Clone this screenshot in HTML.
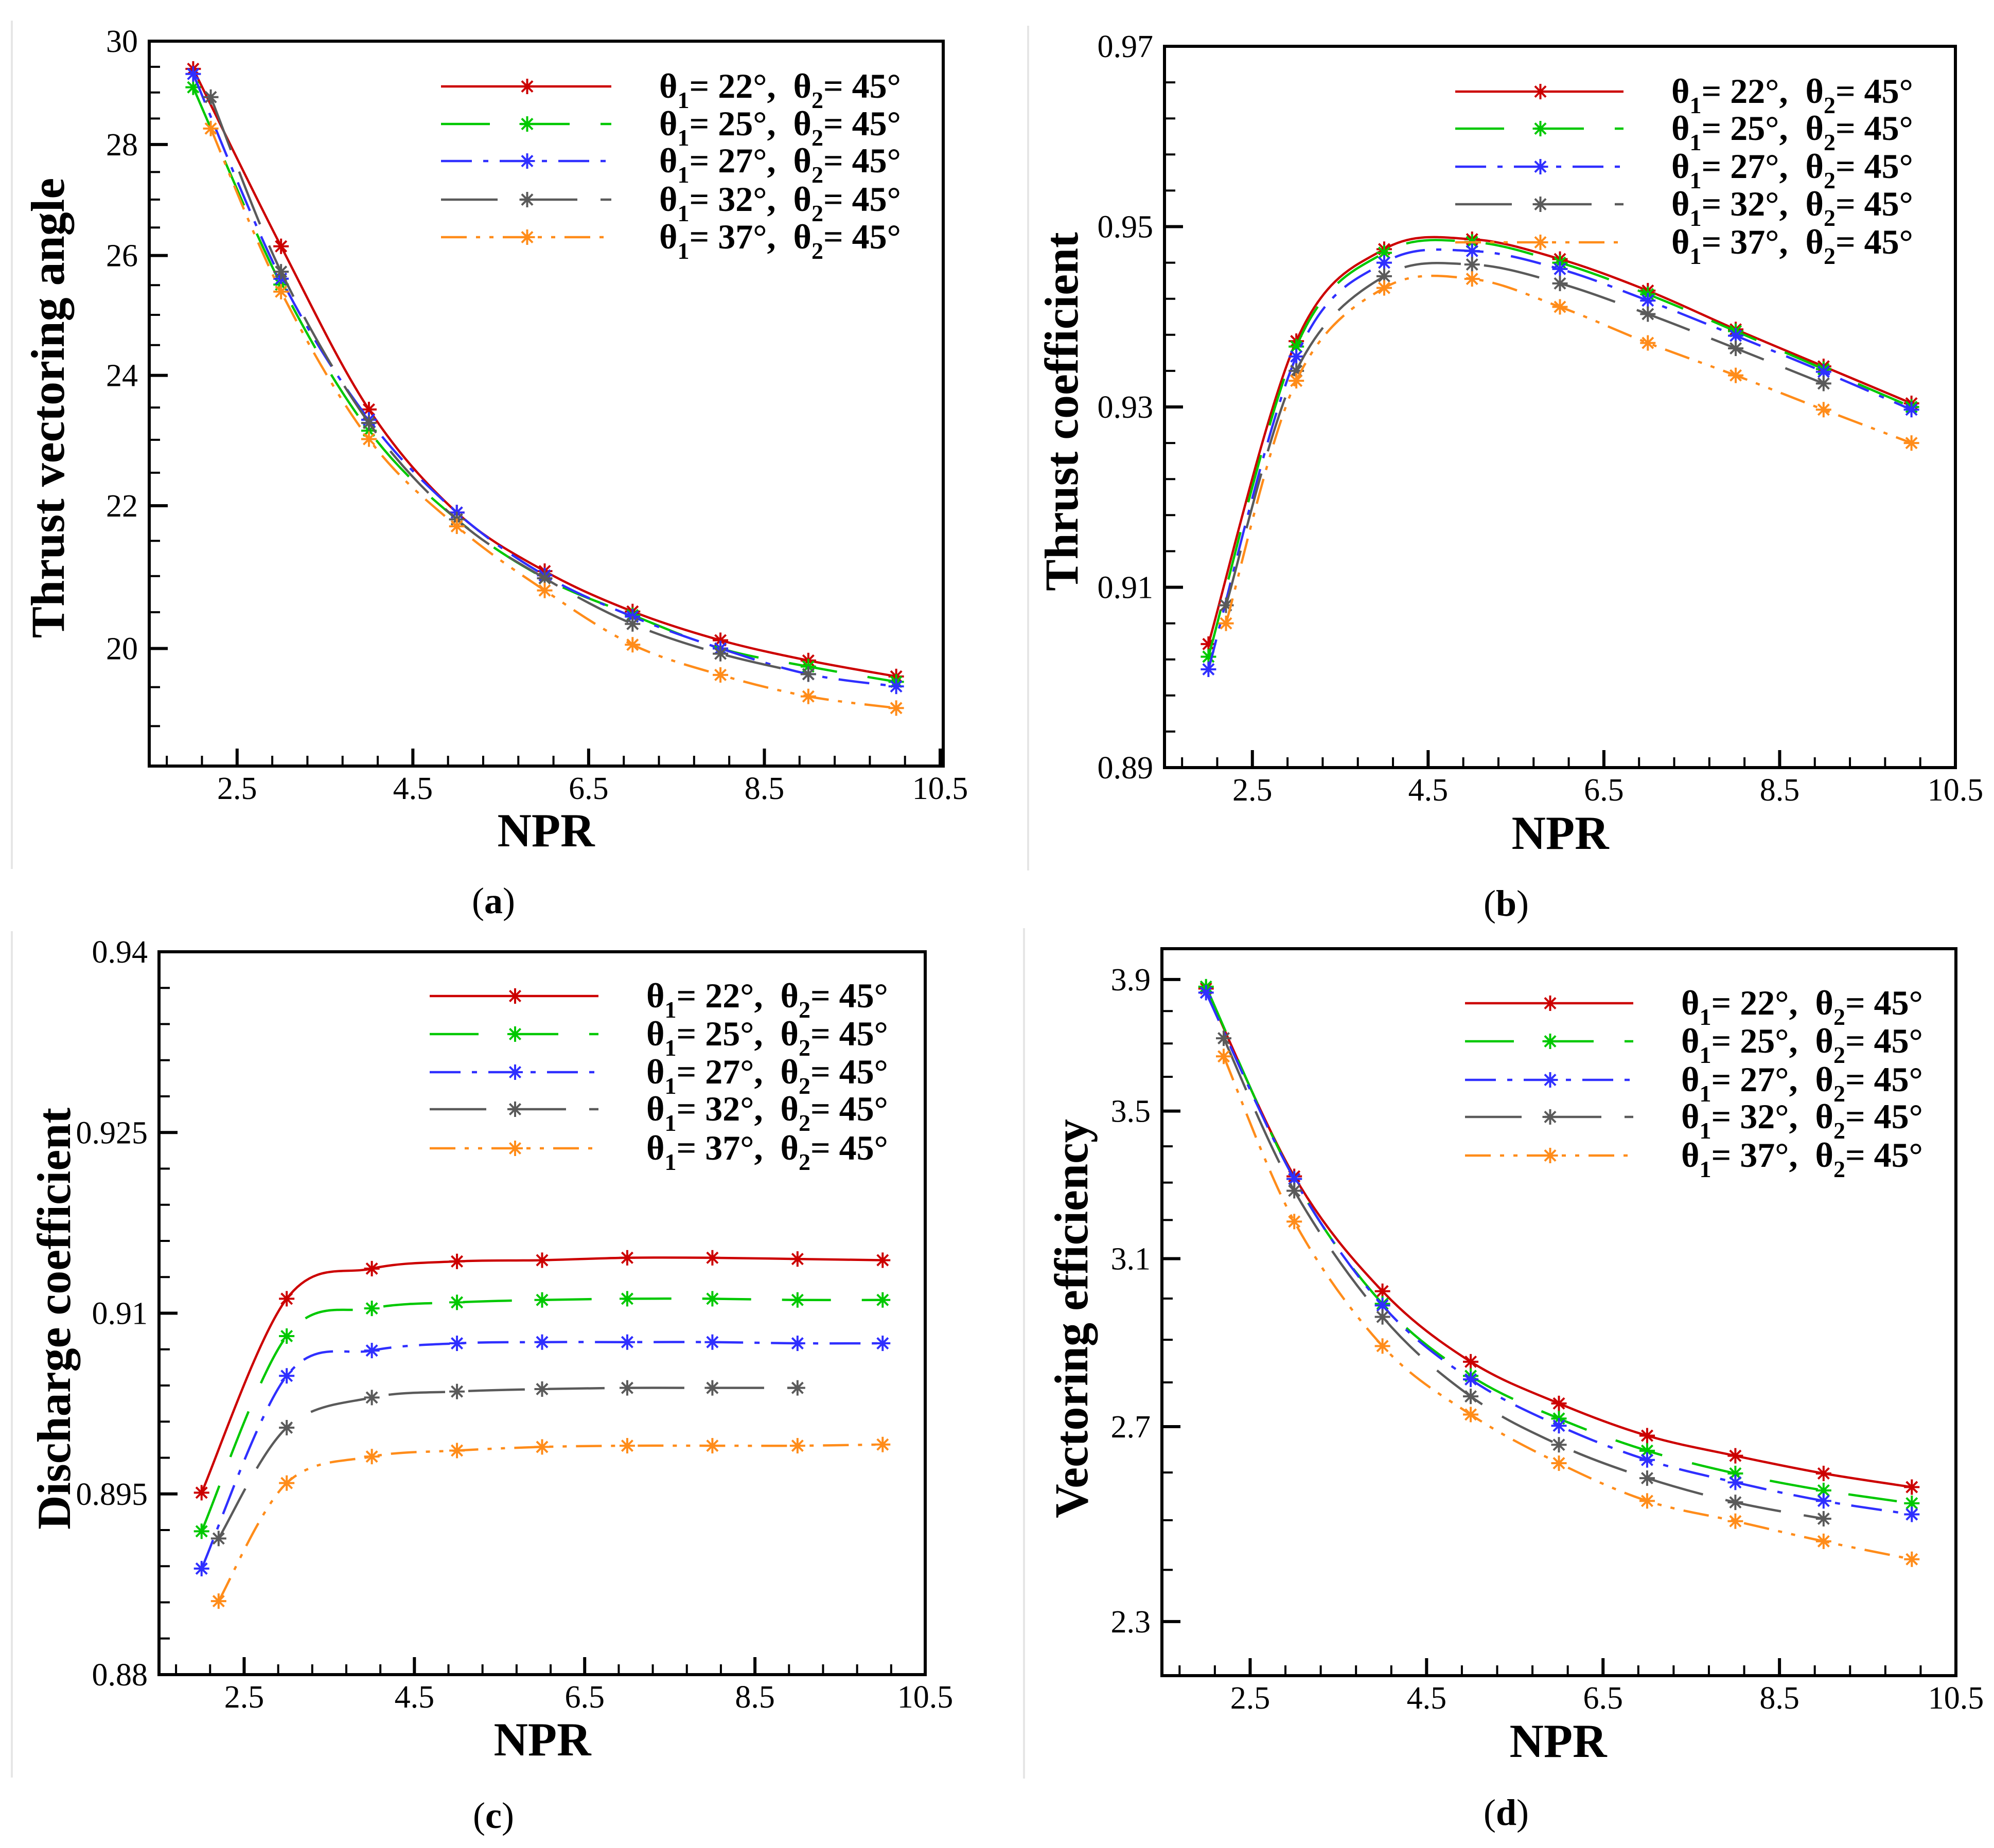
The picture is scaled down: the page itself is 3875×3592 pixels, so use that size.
<!DOCTYPE html>
<html><head><meta charset="utf-8"><style>
html,body{margin:0;padding:0;background:#fff;}
svg{display:block;}
svg text{font-family:"Liberation Serif","DejaVu Serif",serif;}
</style></head>
<body>
<svg id="fig" width="3875" height="3592" viewBox="0 0 3875 3592" xmlns="http://www.w3.org/2000/svg">
<rect x="0" y="0" width="3875" height="3592" fill="#fff"/>
</svg>
<script>
const xMain = [2,3,4,5,6,7,8,9,10];
const xGray = [2.2,3,4,5,6,7,8,9];
const xOrange = [2.2,3,4,5,6,7,8,9,10];

const aRed = [29.45,26.16,23.46,21.9,21.06,20.50,20.11,19.84,19.63];
const aGreen = [29.09,25.5,23.13,21.8,20.96,20.45,20.0,19.76,19.56];
const aBlue = [29.35,25.6,23.3,21.9,21.0,20.43,20.0,19.66,19.5];
const aGray = [28.9,25.72,23.25,21.8,20.96,20.33,19.93,19.66];
const aOrange = [28.3,25.38,23.0,21.7,20.79,20.05,19.65,19.37,19.22];

const bRed = [0.9037,0.9373,0.9475,0.9486,0.9464,0.9429,0.9386,0.9345,0.9304];
const bGreen = [0.9023,0.9367,0.9471,0.9483,0.946,0.9425,0.9384,0.9342,0.930];
const bBlue = [0.9009,0.9356,0.946,0.9473,0.9453,0.9418,0.9379,0.9339,0.9297];
const bGray = [0.908,0.934,0.9445,0.9458,0.9437,0.9403,0.9365,0.9326];
const bOrange = [0.906,0.9329,0.9432,0.9442,0.9411,0.9371,0.9335,0.9297,0.926];

const cRed = [0.8951,0.9112,0.9137,0.9143,0.9144,0.9146,0.9146,0.9145,0.9144];
const cGreen = [0.8919,0.9081,0.9104,0.9109,0.9111,0.9112,0.9112,0.9111,0.9111];
const cBlue = [0.8888,0.9048,0.9069,0.9075,0.9076,0.9076,0.9076,0.9075,0.9075];
const cGray = [0.8913,0.9005,0.903,0.9035,0.9037,0.9038,0.9038,0.9038];
const cOrange = [0.8861,0.8959,0.8981,0.8986,0.8989,0.899,0.899,0.899,0.8991];

const dRed = [3.871,3.317,3.018,2.848,2.752,2.68,2.636,2.598,2.569];
const dGreen = [3.877,3.31,2.987,2.815,2.718,2.647,2.598,2.562,2.535];
const dBlue = [3.858,3.31,2.983,2.807,2.702,2.627,2.579,2.540,2.512];
const dGray = [3.716,3.278,2.955,2.768,2.66,2.588,2.537,2.503];
const dOrange = [3.661,3.196,2.885,2.727,2.62,2.54,2.498,2.457,2.421];

const xMajorTicks = [2.5,4.5,6.5,8.5,10.5];
const xTickLabels = ["2.5","4.5","6.5","8.5","10.5"];
const aYTicks = [20,22,24,26,28,30];
const aYLabels = ["20","22","24","26","28","30"];
const bYTicks = [0.89,0.91,0.93,0.95,0.97];
const bYLabels = ["0.89","0.91","0.93","0.95","0.97"];
const cYTicks = [0.88,0.895,0.91,0.925,0.94];
const cYLabels = ["0.88","0.895","0.91","0.925","0.94"];
const dYTicks = [2.3,2.7,3.1,3.5,3.9];
const dYLabels = ["2.3","2.7","3.1","3.5","3.9"];
const legendAngles = ["22","25","27","32","37"];

const NS = "http://www.w3.org/2000/svg";
const FONT = '"Liberation Serif", "DejaVu Serif", serif';
const svg = document.getElementById('fig');
function mk(tag, attrs, parent){
  const e = document.createElementNS(NS, tag);
  for (const k in attrs) e.setAttribute(k, attrs[k]);
  if (tag === 'text') e.setAttribute('font-family', FONT);
  (parent||svg).appendChild(e);
  return e;
}
const styles = [
  {color:"#cc0000", dash:"none"},
  {color:"#00c800", dash:"95 60"},
  {color:"#2f2fff", dash:"60 22 10 22"},
  {color:"#5a5a5a", dash:"110 45"},
  {color:"#ff8c1a", dash:"50 18 8 18 8 18"}
];
const seriesNames = ["theta22","theta25","theta27","theta32","theta37"];

function star(g, cx, cy, col, r){
  const s = mk('g', {}, g);
  
  
  for (let k=0;k<4;k++){
    const a = k*Math.PI/4 + Math.PI/2;
    mk('line',{x1:cx-r*Math.cos(a),y1:cy-r*Math.sin(a),x2:cx+r*Math.cos(a),y2:cy+r*Math.sin(a),stroke:col,'stroke-width':4},s);
  }
}
function smoothPath(pts){
  let d = "M"+pts[0][0]+","+pts[0][1];
  for (let i=0;i<pts.length-1;i++){
    const p0 = pts[Math.max(0,i-1)], p1=pts[i], p2=pts[i+1], p3=pts[Math.min(pts.length-1,i+2)];
    const c1x = p1[0]+(p2[0]-p0[0])/6, c1y = p1[1]+(p2[1]-p0[1])/6;
    const c2x = p2[0]-(p3[0]-p1[0])/6, c2y = p2[1]-(p3[1]-p1[1])/6;
    d += " C"+c1x+","+c1y+" "+c2x+","+c2y+" "+p2[0]+","+p2[1];
  }
  return d;
}

function panel(cfg){
  const g = mk('g',{});
  
  
  const L=cfg.L,R=cfg.R,T=cfg.T,B=cfg.B;
  const xs = v => L + (v-cfg.xmin)/(cfg.xmax-cfg.xmin)*(R-L);
  const ys = cfg.log
    ? v => B - (Math.log(v)-Math.log(cfg.ymin))/(Math.log(cfg.ymax)-Math.log(cfg.ymin))*(B-T)
    : v => B - (v-cfg.ymin)/(cfg.ymax-cfg.ymin)*(B-T);
  const sep = mk('line',{x1:cfg.sepX,y1:T-40,x2:cfg.sepX,y2:B+200,stroke:'#e6e6e6','stroke-width':4},g);
  
  
  const xt = mk('g',{},g);
  
  
  for (let v=1.7; v<=cfg.xmax+1e-6; v+=0.4){
    const isMaj = xMajorTicks.some(m=>Math.abs(m-v)<1e-6);
    const x = xs(v);
    mk('line',{x1:x,y1:B,x2:x,y2:B-(isMaj?34:20),stroke:'#000','stroke-width':isMaj?6:4},xt);
  }
  xMajorTicks.forEach((v,i)=>{
    const t = mk('text',{x:xs(v),y:B+64,'font-size':62,'text-anchor':'middle',fill:'#000'},xt);
    t.textContent = xTickLabels[i];
    
    
  });
  const yt = mk('g',{},g);
  
  
  const n = Math.round((cfg.ymax-cfg.ymin)/cfg.minorStep);
  for (let k=0;k<=n;k++){
    const v = cfg.ymin + k*cfg.minorStep;
    const isMaj = cfg.yTicks.some(m=>Math.abs(m-v)<cfg.minorStep*0.1);
    if (isMaj) continue;
    const y = ys(v);
    if (y<T-1||y>B+1) continue;
    mk('line',{x1:L,y1:y,x2:L+21,y2:y,stroke:'#000','stroke-width':4},yt);
  }
  cfg.yTicks.forEach((v,i)=>{
    const y = ys(v);
    mk('line',{x1:L,y1:y,x2:L+36,y2:y,stroke:'#000','stroke-width':6},yt);
    const t = mk('text',{x:L-22,y:y+21,'font-size':62,'text-anchor':'end',fill:'#000'},yt);
    t.textContent = cfg.yLabels[i];
    
    
  });
  const sets = [[xMain,cfg.data[0]],[xMain,cfg.data[1]],[xMain,cfg.data[2]],[xGray,cfg.data[3]],[xOrange,cfg.data[4]]];
  sets.forEach((s,i)=>{
    const sg = mk('g',{},g);
    
    
    const pts = s[1].map((v,j)=>[xs(s[0][j]), ys(v)]);
    mk('path',{d:smoothPath(pts),fill:'none',stroke:styles[i].color,'stroke-width':4.5,'stroke-dasharray':styles[i].dash},sg);
    pts.forEach(p=>star(sg,p[0],p[1],styles[i].color,15));
  });
  const fr = mk('rect',{x:L,y:T,width:R-L,height:B-T,fill:'none',stroke:'#000','stroke-width':6},g);
  
  
  const lg = mk('g',{},g);
  
  
  cfg.legRows.forEach((y,i)=>{
    const e = mk('g',{},lg);
    
    
    mk('line',{x1:cfg.legX1,y1:y,x2:cfg.legX2,y2:y,stroke:styles[i].color,'stroke-width':4.5,'stroke-dasharray':styles[i].dash},e);
    star(e,(cfg.legX1+cfg.legX2)/2+2,y,styles[i].color,15);
    const t = mk('text',{x:cfg.legTX,y:y+22,'font-size':68,'font-weight':'bold',fill:'#000',style:'white-space:pre','xml:space':'preserve'},e);
    t.innerHTML = 'θ<tspan dy="20" font-size="46">1</tspan><tspan dy="-20">= '+legendAngles[i]+'°,  θ</tspan><tspan dy="20" font-size="46">2</tspan><tspan dy="-20">= 45°</tspan>';
  });
  const yTitle = mk('text',{x:0,y:0,'font-size':92,'font-weight':'bold','text-anchor':'middle',fill:'#000',transform:'translate('+cfg.ytX+','+cfg.ytY+') rotate(-90)'},g);
  yTitle.textContent = cfg.yTitle;
  
  
  const xTitle = mk('text',{x:cfg.xtX,y:cfg.xtY,'font-size':92,'font-weight':'bold','text-anchor':'middle',fill:'#000'},g);
  xTitle.textContent = 'NPR';
  
  
  const cap = mk('text',{x:cfg.capX,y:cfg.capY,'font-size':72,'text-anchor':'middle',fill:'#000'},g);
  cap.innerHTML = '(<tspan font-weight="bold">'+cfg.cap+'</tspan>)';
  
  
}

panel({name:'panel-a-thrust-vectoring-angle',L:290,R:1833,T:80,B:1489,xmin:1.5,xmax:10.535,ymin:18.49,ymax:30,log:true,
  yTicks:aYTicks,yLabels:aYLabels,minorStep:0.5,data:[aRed,aGreen,aBlue,aGray,aOrange],
  legRows:[168,241,313,388,461],legX1:857,legX2:1188,legTX:1281,
  yTitle:'Thrust vectoring angle',ytX:124,ytY:793,xtX:1061,xtY:1645,capX:959,capY:1775,cap:'a',sepX:23});
panel({name:'panel-b-thrust-coefficient',L:2263,R:3800,T:90,B:1492,xmin:1.5,xmax:10.5,ymin:0.89,ymax:0.97,log:false,
  yTicks:bYTicks,yLabels:bYLabels,minorStep:0.004,data:[bRed,bGreen,bBlue,bGray,bOrange],
  legRows:[178,250,324,397,471],legX1:2828,legX2:3155,legTX:3248,
  yTitle:'Thrust coefficient',ytX:2094,ytY:800,xtX:3032,xtY:1650,capX:2927,capY:1780,cap:'b',sepX:1998});
panel({name:'panel-c-discharge-coefficient',L:309,R:1798,T:1850,B:3255,xmin:1.5,xmax:10.5,ymin:0.88,ymax:0.94,log:false,
  yTicks:cYTicks,yLabels:cYLabels,minorStep:0.003,data:[cRed,cGreen,cBlue,cGray,cOrange],
  legRows:[1936,2010,2084,2156,2232],legX1:835,legX2:1163,legTX:1256,
  yTitle:'Discharge coefficient',ytX:136,ytY:2563,xtX:1054,xtY:3412,capX:959,capY:3553,cap:'c',sepX:23});
panel({name:'panel-d-vectoring-efficiency',L:2258,R:3801,T:1844,B:3257,xmin:1.5,xmax:10.5,ymin:2.2,ymax:4.0,log:true,
  yTicks:dYTicks,yLabels:dYLabels,minorStep:0.1,data:[dRed,dGreen,dBlue,dGray,dOrange],
  legRows:[1950,2024,2099,2171,2246],legX1:2847,legX2:3174,legTX:3267,
  yTitle:'Vectoring efficiency',ytX:2113,ytY:2563,xtX:3028,xtY:3415,capX:2927,capY:3547,cap:'d',sepX:1990});
</script>
</body></html>
